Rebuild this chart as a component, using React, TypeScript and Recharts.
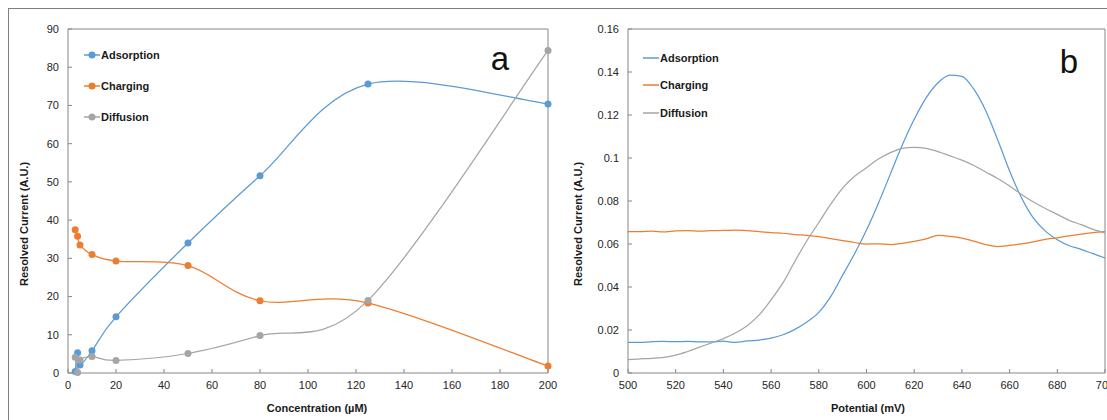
import React from 'react';
import { LineChart, Line, XAxis, YAxis, Legend, ReferenceLine, Customized } from 'recharts';

// panel a: resolved current vs concentration
const concentration = [3, 4, 5, 10, 20, 50, 80, 125, 200];
const adsorptionA = [0.4, 5.3, 2.1, 5.8, 14.7, 34.0, 51.6, 75.6, 70.4];
const chargingA = [37.5, 35.8, 33.5, 31.0, 29.3, 28.1, 18.9, 18.3, 1.8];
const diffusionA = [4.1, 0.1, 3.4, 4.3, 3.3, 5.1, 9.8, 19.0, 84.4];

// panel b: resolved current vs potential
const potential = [
  500, 505, 510, 515, 520, 525, 530, 535, 540, 545, 550, 555, 560, 565, 570, 575, 580, 585, 590, 595, 600,
  605, 610, 615, 620, 625, 630, 635, 640, 645, 650, 655, 660, 665, 670, 675, 680, 685, 690, 695, 700,
];
const adsorptionB = [
  0.0143, 0.0142, 0.0146, 0.0147, 0.0146, 0.0147, 0.0145, 0.0145, 0.0148, 0.0142, 0.0149, 0.0153, 0.0162,
  0.0178, 0.0203, 0.0237, 0.0282, 0.0355, 0.0455, 0.0555, 0.0665, 0.079, 0.0925, 0.106, 0.118, 0.128,
  0.135, 0.1385, 0.138, 0.132, 0.122, 0.1085, 0.094, 0.0815, 0.072, 0.066, 0.062, 0.0592, 0.0575, 0.0555,
  0.0535,
];
const chargingB = [
  0.0658, 0.0657, 0.066, 0.0656, 0.0661, 0.0662, 0.066, 0.0662, 0.0663, 0.0665, 0.0662, 0.0658, 0.0653,
  0.065, 0.0644, 0.064, 0.0634, 0.0625, 0.0616, 0.0607, 0.06, 0.0601, 0.0597, 0.0603, 0.0612, 0.0624,
  0.064, 0.0636, 0.0627, 0.0613, 0.0597, 0.0588, 0.0594, 0.0601, 0.061, 0.0622, 0.0629, 0.0638, 0.0646,
  0.0653, 0.0657,
];
const diffusionB = [
  0.0062, 0.0066, 0.0068, 0.0073, 0.0083, 0.01, 0.012, 0.014, 0.016, 0.0186, 0.022, 0.027, 0.034, 0.042,
  0.052, 0.0615, 0.07, 0.0785, 0.086, 0.0915, 0.0955, 0.0995, 0.1025, 0.1045, 0.105, 0.1045, 0.103, 0.101,
  0.099, 0.0965, 0.0935, 0.0905, 0.087, 0.083, 0.0795, 0.0765, 0.0738, 0.071, 0.069, 0.0668, 0.0652,
];

const concTicks = [0, 20, 40, 60, 80, 100, 120, 140, 160, 180, 200];
const currentTicksA = [0, 10, 20, 30, 40, 50, 60, 70, 80, 90];
const potentialTicks = [500, 520, 540, 560, 580, 600, 620, 640, 660, 680, 700];
const currentTicksB = [0, 0.02, 0.04, 0.06, 0.08, 0.1, 0.12, 0.14, 0.16];

const series = [
  { key: 'ads', name: 'Adsorption', color: '#5B9BD5' },
  { key: 'chg', name: 'Charging', color: '#ED7D31' },
  { key: 'dif', name: 'Diffusion', color: '#A5A5A5' },
];

const dataA = concentration.map((x, i) => ({ x, ads: adsorptionA[i], chg: chargingA[i], dif: diffusionA[i] }));
const dataB = potential.map((p, i) => ({ p, ads: adsorptionB[i], chg: chargingB[i], dif: diffusionB[i] }));

const AXIS = '#868686';
const TICK = { fill: '#262626', fontSize: 11 };

// Excel-style smoothed line (uniform Catmull-Rom through the points)
function excelSmooth(context: any) {
  let pts: number[][] = [];
  return {
    areaStart() {},
    areaEnd() {},
    lineStart() {
      pts = [];
    },
    lineEnd() {
      const n = pts.length;
      if (!n) return;
      context.moveTo(pts[0][0], pts[0][1]);
      for (let i = 0; i < n - 1; i++) {
        const p0 = pts[Math.max(i - 1, 0)];
        const p1 = pts[i];
        const p2 = pts[i + 1];
        const p3 = pts[Math.min(i + 2, n - 1)];
        context.bezierCurveTo(
          p1[0] + (p2[0] - p0[0]) / 6,
          p1[1] + (p2[1] - p0[1]) / 6,
          p2[0] - (p3[0] - p1[0]) / 6,
          p2[1] - (p3[1] - p1[1]) / 6,
          p2[0],
          p2[1]
        );
      }
    },
    point(x: number, y: number) {
      pts.push([+x, +y]);
    },
  };
}

const LegendList = ({ rowH, dots }: { rowH: number; dots: boolean }) => (
  <div>
    {series.map((s) => (
      <div key={s.key} style={{ height: rowH, display: 'flex', alignItems: 'center' }}>
        <svg width={16} height={8} style={{ marginRight: 1 }}>
          <line x1={0} y1={4} x2={16} y2={4} stroke={s.color} strokeWidth={1.5} />
          {dots && <circle cx={8} cy={4} r={3.5} fill={s.color} />}
        </svg>
        <span style={{ fontSize: 11, fontWeight: 'bold', color: '#1a1a1a' }}>{s.name}</span>
      </div>
    ))}
  </div>
);

const fmt = (v: number) => String(+v.toFixed(2));

const TextsA = () => (
  <g>
    <text x={25} y={224} transform="rotate(-90 25 224)" textAnchor="middle" dominantBaseline="middle"
      fontSize={11} fontWeight="bold" fill="#1a1a1a">Resolved Current (A.U.)</text>
    <text x={317} y={412} textAnchor="middle" fontSize={11} fontWeight="bold" fill="#1a1a1a">Concentration (µM)</text>
    <text x={500} y={70} textAnchor="middle" fontSize={33} fill="#111">a</text>
  </g>
);

const TextsB = () => (
  <g>
    <text x={19} y={224} transform="rotate(-90 19 224)" textAnchor="middle" dominantBaseline="middle"
      fontSize={11} fontWeight="bold" fill="#1a1a1a">Resolved Current (A.U.)</text>
    <text x={308} y={412} textAnchor="middle" fontSize={11} fontWeight="bold" fill="#1a1a1a">Potential (mV)</text>
    <text x={509} y={73} textAnchor="middle" fontSize={33} fill="#111">b</text>
  </g>
);

export default function App() {
  return (
    <div style={{ position: 'absolute', left: 0, top: 0, width: 1107, height: 420, background: '#fff', overflow: 'hidden', fontFamily: '"Liberation Sans", Arial, sans-serif' }}>
      <div style={{ position: 'absolute', left: 8, top: 8, width: 1099, height: 412, borderTop: '1px solid #7f7f7f', borderLeft: '1px solid #7f7f7f' }} />
      <div style={{ position: 'absolute', left: 0, top: 0 }}>
        <LineChart width={560} height={420} data={dataA} margin={{ top: 29, right: 12, bottom: 0, left: 8 }}>
          <XAxis type="number" dataKey="x" domain={[0, 200]} ticks={concTicks} interval={0} height={47}
            stroke={AXIS} tickSize={-4} tickMargin={12} tick={TICK} />
          <YAxis type="number" domain={[0, 90]} ticks={currentTicksA} interval={0} width={60}
            stroke={AXIS} tickSize={-4} tickMargin={13} tick={TICK} />
          <ReferenceLine y={90} stroke={AXIS} />
          <ReferenceLine x={200} stroke={AXIS} />
          {series.map((s) => (
            <Line key={s.key} dataKey={s.key} name={s.name} type={excelSmooth as any} stroke={s.color}
              strokeWidth={1.25} dot={{ r: 3.5, fill: s.color, stroke: s.color, strokeWidth: 0 }}
              isAnimationActive={false} />
          ))}
          <Legend layout="vertical" align="center" verticalAlign="middle"
            wrapperStyle={{ left: 84, top: 39, width: 'auto', height: 'auto' }}
            content={() => <LegendList rowH={31} dots />} />
          <Customized component={TextsA} />
        </LineChart>
      </div>
      <div style={{ position: 'absolute', left: 560, top: 0 }}>
        <LineChart width={547} height={420} data={dataB} margin={{ top: 29, right: 2, bottom: 0, left: 8 }}>
          <XAxis type="number" dataKey="p" domain={[500, 700]} ticks={potentialTicks} interval={0} height={47}
            stroke={AXIS} tickSize={-4} tickMargin={12} tick={TICK} />
          <YAxis type="number" domain={[0, 0.16]} ticks={currentTicksB} interval={0} width={60}
            stroke={AXIS} tickSize={-4} tickMargin={13} tick={TICK} tickFormatter={fmt} />
          <ReferenceLine y={0.16} stroke={AXIS} />
          <ReferenceLine x={700} stroke={AXIS} />
          {series.map((s) => (
            <Line key={s.key} dataKey={s.key} name={s.name} type="monotone" stroke={s.color}
              strokeWidth={1.25} dot={false} isAnimationActive={false} />
          ))}
          <Legend layout="vertical" align="center" verticalAlign="middle"
            wrapperStyle={{ left: 83, top: 44, width: 'auto', height: 'auto' }}
            content={() => <LegendList rowH={27.5} dots={false} />} />
          <Customized component={TextsB} />
        </LineChart>
      </div>
    </div>
  );
}
